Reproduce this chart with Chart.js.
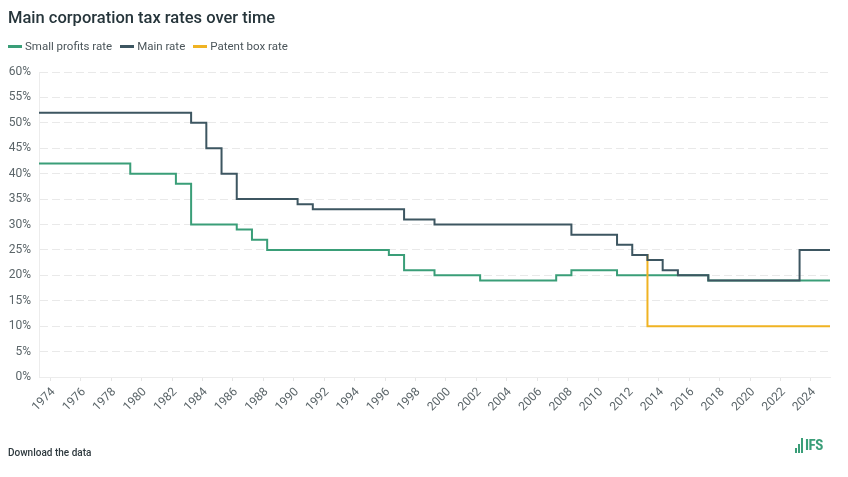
<!DOCTYPE html>
<html>
<head>
<meta charset="utf-8">
<script src="https://cdn.jsdelivr.net/npm/chart.js@4.4.1/dist/chart.umd.min.js"></script>
<style>
  html, body { margin: 0; padding: 0; background: #fff; }
  body { width: 848px; height: 477px; position: relative; overflow: hidden; font-family: Roboto, "Open Sans", sans-serif; }
  #wrap { position: absolute; left: 0; top: 0; width: 848px; height: 477px; }
  h1 { position: absolute; left: 8px; top: 8px; margin: 0; font-size: 16.5px; font-weight: 500; color: #26353b; }
  .legend { position: absolute; left: 8px; top: 39px; font-size: 11.5px; color: #4b555a; display: flex; gap: 8px; }
  .legend span { display: inline-flex; align-items: center; }
  .legend i { display: inline-block; width: 14px; height: 3px; margin-right: 3px; }
  .foot { position: absolute; left: 8px; top: 447px; font-size: 10px; font-weight: 500; color: #2f3a3f; }
  .logo { position: absolute; left: 795px; top: 437px; height: 16px; display: flex; align-items: flex-end; color: #3a9e78; }
  .logo b { display: inline-block; width: 2px; background: #3a9e78; margin-right: 1px; }
  .logo em { font-style: normal; font-weight: 700; font-size: 15px; line-height: 15px; margin-left: 1px; font-family: "Roboto Condensed", Roboto, sans-serif; letter-spacing: -0.5px; }
</style>
</head>
<body>
<div id="wrap"><canvas id="chart" width="848" height="477"></canvas></div>
<h1>Main corporation tax rates over time</h1>
<div class="legend">
  <span><i style="background:#3a9e78"></i>Small profits rate</span>
  <span><i style="background:#3d5661"></i>Main rate</span>
  <span><i style="background:#f0b323"></i>Patent box rate</span>
</div>
<div class="foot">Download the data</div>
<div class="logo"><b style="height:5px"></b><b style="height:9px"></b><b style="height:15px"></b><em>IFS</em></div>
<script>
// fiscal years (each rate applies from April of the year)
const years = [];
for (let y = 1973; y <= 2024; y++) years.push(y);

const smallRate = [
  42, 42, 42, 42, 42, 42, 40, 40, 40, 38,
  30, 30, 30, 29, 27, 25, 25, 25, 25, 25,
  25, 25, 25, 24, 21, 21, 20, 20, 20, 19,
  19, 19, 19, 19, 20, 21, 21, 21, 20, 20,
  20, 20, 20, 20, 19, 19, 19, 19, 19, 19,
  19, 19
];
const mainRate = [
  52, 52, 52, 52, 52, 52, 52, 52, 52, 52,
  50, 45, 40, 35, 35, 35, 35, 34, 33, 33,
  33, 33, 33, 33, 31, 31, 30, 30, 30, 30,
  30, 30, 30, 30, 30, 28, 28, 28, 26, 24,
  23, 21, 20, 20, 19, 19, 19, 19, 19, 19,
  25, 25
];
const patentRate = [
  null, null, null, null, null, null, null, null, null, null,
  null, null, null, null, null, null, null, null, null, null,
  null, null, null, null, null, null, null, null, null, null,
  null, null, null, null, null, null, null, null, null, 24,
  10, 10, 10, 10, 10, 10, 10, 10, 10, 10,
  10, 10
];
const tickYears = [];
for (let y = 1974; y <= 2024; y += 2) tickYears.push(y);

// step from April of each year, last value carried to April 2025
function toPoints(vals) {
  const pts = years.map((y, i) => ({ x: y + 0.25, y: vals[i] }));
  pts.push({ x: years[years.length - 1] + 1.25, y: vals[vals.length - 1] });
  return pts;
}

Chart.defaults.font.family = "Roboto, 'Open Sans', sans-serif";
Chart.defaults.color = '#5b6569';

new Chart(document.getElementById('chart'), {
  type: 'line',
  data: {
    datasets: [
      { label: 'Small profits rate', data: toPoints(smallRate), borderColor: '#3a9e78', order: 2 },
      { label: 'Main rate', data: toPoints(mainRate), borderColor: '#3d5661', order: 0 },
      { label: 'Patent box rate', data: toPoints(patentRate), borderColor: '#f0b323', order: 1 }
    ]
  },
  options: {
    responsive: false,
    animation: false,
    events: [],
    datasets: {
      line: { stepped: true, borderWidth: 2, pointRadius: 0, fill: false, borderCapStyle: 'butt' }
    },
    layout: { padding: { left: 0, right: 18, top: 72, bottom: 0 } },
    plugins: { legend: { display: false }, tooltip: { enabled: false } },
    scales: {
      x: {
        type: 'linear',
        min: 1973.25,
        max: 2025.25,
        afterBuildTicks: s => { s.ticks = tickYears.map(v => ({ value: v })); },
        afterFit: s => { s.height = 100; },
        ticks: { minRotation: 45, maxRotation: 45, font: { size: 12 }, color: '#5b6569', padding: 4, labelOffset: 3, callback: v => String(v) },
        grid: { drawOnChartArea: false, drawTicks: true, tickLength: 4, color: '#e6e6e6' },
        border: { color: '#ececec' }
      },
      y: {
        min: 0,
        max: 60,
        afterFit: s => { s.width = 39; },
        ticks: { stepSize: 5, font: { size: 12 }, color: '#5b6569', padding: 8, callback: v => v + '%' },
        grid: { color: '#e9e9e9', drawTicks: false },
        border: { dash: [8, 4], color: '#ececec' }
      }
    }
  }
});
</script>
</body>
</html>
